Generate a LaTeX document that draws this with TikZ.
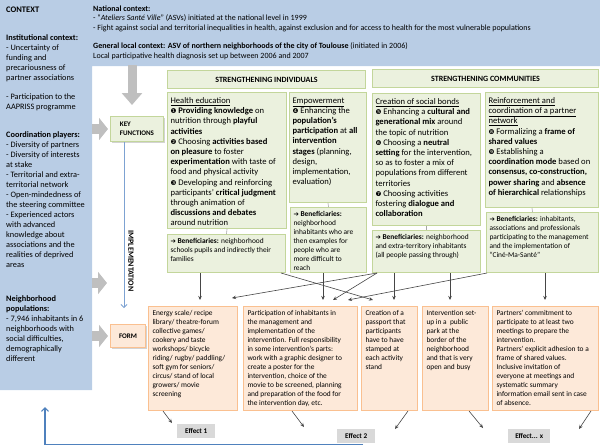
\documentclass[tikz,border=0pt]{standalone}
\usepackage{fontspec}
\setmainfont{Carlito}
\newfontfamily\symfont{DejaVu Sans}
\usetikzlibrary{arrows.meta, positioning, shadows, calc}
\definecolor{ctxblue}{RGB}{185,205,229}
\definecolor{greenfill}{RGB}{235,241,222}
\definecolor{greenline}{RGB}{195,214,155}
\definecolor{orangefill}{RGB}{253,233,217}
\definecolor{orangeline}{RGB}{250,192,144}
\definecolor{effectfill}{RGB}{217,217,217}
\definecolor{arrowgrey}{RGB}{191,191,191}
\definecolor{linkgrey}{RGB}{70,70,70}
\definecolor{fbblue}{RGB}{79,129,189}
\definecolor{implblue}{RGB}{125,162,210}
\newcommand{\cnum}[1]{{\symfont\fontsize{6.6}{6.6}\selectfont #1}}
\newcommand{\benarrow}{{\symfont\fontsize{6.4}{6.4}\selectfont ➔}}
\newcommand{\boxtext}[3]{\parbox[t][#2pt][t]{#1pt}{\raggedright #3}}
\tikzset{
    gbox/.style={
        draw=greenline, line width=1pt, fill=greenfill, anchor=north west,
        inner xsep=3pt, inner ysep=5pt, font=\fontsize{8.6}{10.2}\selectfont
    },
    benbox/.style={gbox, inner ysep=4pt, font=\fontsize{7.4}{9}\selectfont},
    hdrbox/.style={
        draw=greenline, line width=1pt, fill=greenfill, anchor=north west,
        inner sep=0pt, font=\fontsize{8}{9}\selectfont\bfseries
    },
    formbox/.style={
        draw=orangeline, line width=1pt, fill=orangefill, anchor=north west,
        inner xsep=4pt, inner ysep=4pt, font=\fontsize{7.4}{9}\selectfont
    },
    keybox/.style={
        draw=greenline, line width=1pt, fill=greenfill, anchor=north west,
        inner sep=0pt, align=left, font=\fontsize{7}{8.5}\selectfont\bfseries,
        drop shadow={shadow xshift=1.2pt, shadow yshift=-1.2pt, opacity=0.35}
    },
    formlabel/.style={keybox, draw=orangeline, fill=orangefill},
    effbox/.style={
        fill=effectfill, anchor=north west, inner sep=0pt,
        font=\fontsize{7.2}{8}\selectfont\bfseries
    },
    ctxtext/.style={
        anchor=north west, inner sep=0pt, align=left,
        font=\fontsize{8.3}{10}\selectfont
    },
    toptext/.style={ctxtext, font=\fontsize{8}{9.6}\selectfont},
    implabel/.style={inner sep=0pt, font=\fontsize{8}{9}\selectfont\bfseries},
    bigarrow/.style={draw=arrowgrey, line width=10pt, -{Triangle[length=9pt, width=22pt]}},
    benlink/.style={draw=gray!70, line width=0.6pt},
    link/.style={draw=linkgrey, line width=0.6pt, -{Stealth[length=4pt, width=3.5pt]}},
    impl/.style={draw=implblue, line width=0.8pt, -{Straight Barb[length=3pt, width=6pt]}},
    feedback/.style={draw=fbblue, line width=1.2pt, -{Straight Barb[length=3.5pt, width=7pt]}}
}

\begin{document}
\begin{tikzpicture}[x=1pt, y=-1pt]
\useasboundingbox (0,0) rectangle (600,445);

% Context
\fill[ctxblue] (0,0) -- (600,0) -- (600,66) -- (92,66) -- (92,390) -- (0,390) -- cycle;
\node[ctxtext, font=\fontsize{8.5}{10}\selectfont\bfseries] (ctxhead) at (6,7) {CONTEXT};
\node[ctxtext] (ctxinst) at (6,34.5) {\textbf{Institutional context:}\\
- Uncertainty of\\
funding and\\
precariousness of\\
partner associations\\[9pt]
- Participation to the\\
AAPRISS programme};
\node[ctxtext] (ctxcoord) at (6,131.5) {\textbf{Coordination players:}\\
- Diversity of partners\\
- Diversity of interests\\
at stake\\
- Territorial and extra-\\
territorial network\\
- Open-mindedness of\\
the steering committee\\
- Experienced actors\\
with advanced\\
knowledge about\\
associations and the\\
realities of deprived\\
areas};
\node[ctxtext] (ctxpop) at (6,295.5) {\textbf{Neighborhood}\\
\textbf{populations:}\\
- 7,946 inhabitants in 6\\
neighborhoods with\\
social difficulties,\\
demographically\\
different};
\node[toptext] (ctxnat) at (93,5.5) {\textbf{National context:}\\
- ``\textit{Ateliers Santé Ville}'' (ASVs) initiated at the national level in 1999\\
- Fight against social and territorial inequalities in health, against exclusion and for access to health for the most vulnerable populations};
\node[toptext] (ctxloc) at (93,42.5) {\textbf{General local context: ASV of northern neighborhoods of the city of Toulouse} (initiated in 2006)\\
Local participative health diagnosis set up between 2006 and 2007};
\coordinate (ctxedge) at (92,0);
\coordinate (topfoot) at (132,65);

% Key functions
\node[keybox, minimum width=53pt, minimum height=25pt] (keyfun) at (110,116) {KEY\\FUNCTIONS};
\node[hdrbox, minimum width=198pt, minimum height=18pt] (hdrind) at (167,70) {STRENGTHENING INDIVIDUALS};
\node[hdrbox, minimum width=226pt, minimum height=18pt] (hdrcom) at (372,69) {STRENGTHENING COMMUNITIES};

\node[gbox] (health) at (167,92) {\boxtext{113}{126}{\underline{Health education}\\
\cnum{❶} \textbf{Providing knowledge} on\\
nutrition through \textbf{playful}\\
\textbf{activities}\\
\cnum{❷} Choosing \textbf{activities based}\\
\textbf{on pleasure} to foster\\
\textbf{experimentation} with taste of\\
food and physical activity\\
\cnum{❸} Developing and reinforcing\\
participants' \textbf{critical judgment}\\
through animation of\\
\textbf{discussions and debates}\\
around nutrition}};
\node[gbox] (empower) at (289,92) {\boxtext{71}{100}{\underline{Empowerment}\\
\cnum{❹} Enhancing the\\
\textbf{population's}\\
\textbf{participation} at \textbf{all}\\
\textbf{intervention}\\
\textbf{stages} (planning,\\
design,\\
implementation,\\
evaluation)}};
\node[gbox] (social) at (372,93) {\boxtext{102}{122}{\underline{Creation of social bonds}\\
\cnum{❺} Enhancing a \textbf{cultural and}\\
\textbf{generational mix} around\\
the topic of nutrition\\
\cnum{❻} Choosing a \textbf{neutral}\\
\textbf{setting} for the intervention,\\
so as to foster a mix of\\
populations from different\\
territories\\
\cnum{❼} Choosing activities\\
fostering \textbf{dialogue and}\\
\textbf{collaboration}}};
\node[gbox] (reinf) at (485,92) {\boxtext{107}{105}{\underline{Reinforcement and}\\
\underline{coordination of a partner}\\
\underline{network}\\
\cnum{❽} Formalizing a \textbf{frame of}\\
\textbf{shared values}\\
\cnum{❾} Establishing a\\
\textbf{coordination mode} based on\\
\textbf{consensus, co-construction,}\\
\textbf{power sharing} and \textbf{absence}\\
\textbf{of hierarchical} relationships}};

% Beneficiaries
\node[benbox] (ben1) at (167,234) {\boxtext{112}{30}{\benarrow\ \textbf{Beneficiaries:} neighborhood\\
schools pupils and indirectly their\\
families}};
\node[benbox] (ben2) at (290,207) {\boxtext{70}{57}{\benarrow\ \textbf{Beneficiaries:}\\
neighborhood\\
inhabitants who are\\
then examples for\\
people who are\\
more difficult to\\
reach}};
\node[benbox] (ben3) at (372,230) {\boxtext{102}{34}{\benarrow\ \textbf{Beneficiaries:} neighborhood\\
and extra-territory inhabitants\\
(all people passing through)}};
\node[benbox] (ben4) at (486,212) {\boxtext{106}{52}{\benarrow\ \textbf{Beneficiaries:} inhabitants,\\
associations and professionals\\
participating to the management\\
and the implementation of\\
``Ciné-Ma-Santé''}};

\draw[benlink] (health.south) -- (ben1.north);
\draw[benlink] (empower.south) -- (ben2.north);
\draw[benlink] (social.south) -- (ben3.north);
\draw[benlink] ($(reinf.south)+(-10,0)$) -- ($(ben4.north)+(-10,0)$);

% Form
\node[formlabel, minimum width=35pt, minimum height=23pt] (formlbl) at (110,324) {FORM};
\node[formbox] (form1) at (148,306) {\boxtext{81}{96}{Energy scale/ recipe\\
library/ theatre-forum\\
collective games/\\
cookery and taste\\
workshops/ bicycle\\
riding/ rugby/ paddling/\\
soft gym for seniors/\\
circus/ stand of local\\
growers/ movie\\
screening}};
\node[formbox] (form2) at (243,306) {\boxtext{106}{96}{Participation of inhabitants in\\
the management and\\
implementation of the\\
intervention. Full responsibility\\
in some intervention's parts:\\
work with a graphic designer to\\
create a poster for the\\
intervention, choice of the\\
movie to be screened, planning\\
and preparation of the food for\\
the intervention day, etc.}};
\node[formbox] (form3) at (361,306) {\boxtext{48}{96}{Creation of a\\
passport that\\
participants\\
have to have\\
stamped at\\
each activity\\
stand}};
\node[formbox] (form4) at (422,306) {\boxtext{58}{96}{Intervention set-\\
up in a~ public\\
park at the\\
border of the\\
neighborhood\\
and that is very\\
open and busy}};
\node[formbox] (form5) at (492,306) {\boxtext{98}{96}{Partners' commitment to\\
participate to at least two\\
meetings to prepare the\\
intervention.\\
Partners' explicit adhesion to a\\
frame of shared values.\\
Inclusive invitation of\\
everyone at meetings and\\
systematic summary\\
information email sent in case\\
of absence.}};

% Effects
\node[effbox, minimum width=38pt, minimum height=14pt] (eff1) at (177,424) {Effect 1};
\node[effbox, minimum width=38pt, minimum height=14pt] (eff2) at (337,429) {Effect 2};
\node[effbox, minimum width=42pt, minimum height=14pt] (effx) at (508,429) {Effect... x};

% Tips
\coordinate (f1a) at (200,300);
\coordinate (f1b) at (232,298);
\coordinate (f2a) at (323,300);
\coordinate (f2b) at (333,300);
\coordinate (f2c) at (348,300);
\coordinate (f3a) at (373,300);
\coordinate (f3b) at (394,300);
\coordinate (f4a) at (450,300);
\coordinate (f5a) at (545,300);
\coordinate (e1) at (172,423);
\coordinate (e2) at (304,427);
\coordinate (e3) at (395,429);
\coordinate (e4) at (483,428);
\coordinate (e5) at (579,429);
\coordinate (midtip) at (107,283);
\coordinate (implend) at (124,308);
\coordinate (ctxfoot) at (45,407);

% Big arrows
\draw[bigarrow, -{Triangle[length=12pt, width=20pt]}, line width=9pt, shorten >=11pt] (topfoot) -- (topfoot |- keyfun.north);
\draw[bigarrow, shorten >=2pt] (keyfun.west -| ctxedge) -- (keyfun.west);
\draw[bigarrow] (midtip -| ctxedge) -- (midtip);
\draw[bigarrow, shorten >=2pt] (formlbl.west -| ctxedge) -- (formlbl.west);

% Implementation
\draw[impl] (keyfun.south -| implend) -- (implend);
\node[implabel, rotate=-90] (impl) at (131,261) {IMPLEMENTATION};

% Beneficiaries to form
\draw[link] (ben1.south -| f1a) -- (f1a);
\draw[link] ([xshift=-5pt]ben1.south east) -- (f3a);
\draw[link] (ben2.south -| f2a) -- (f2a);
\draw[link] ([xshift=5pt]ben3.south west) -- (f1b);
\draw[link] ([xshift=5pt]ben3.south west) -- (f2b);
\draw[link] (ben3.south -| f3b) -- (f3b);
\draw[link] (ben3.south -| f4a) -- (f4a);
\draw[link] ([xshift=1pt]ben4.south west) -- (f2c);
\draw[link] (ben4.south -| f5a) -- (f5a);

% Form to effects
\draw[link] ([xshift=15pt]form1.south west) -- (e1);
\draw[link] ([xshift=49pt]form2.south west) -- (e2);
\draw[link] ([xshift=-10pt]form3.south east) -- (e3);
\draw[link] ([xshift=-20pt]form4.south east) -- (e4);
\draw[link] ([xshift=-8pt]form5.south east) -- (e5);

% Feedback
\draw[feedback] ([xshift=7pt, yshift=-0.8pt]eff2.south) -| (ctxfoot);

\end{tikzpicture}
\end{document}
